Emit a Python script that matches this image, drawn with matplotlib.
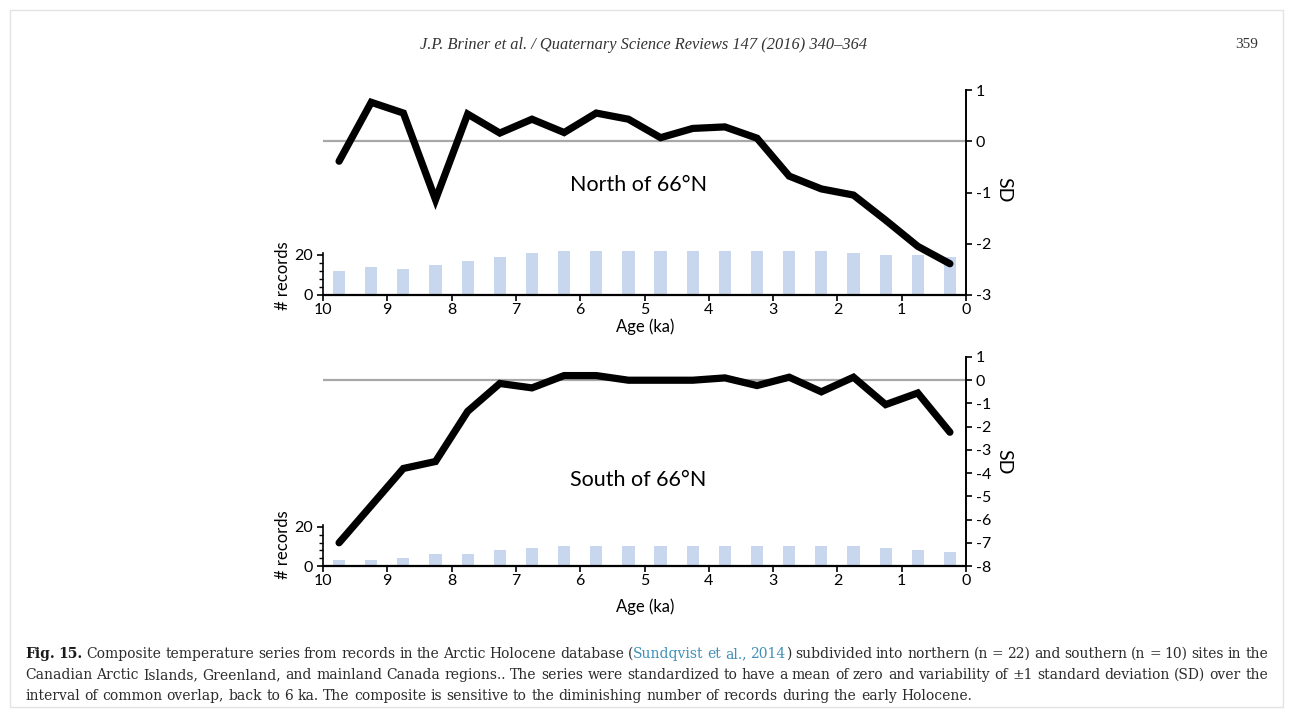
import matplotlib
matplotlib.use("Agg")
import matplotlib.pyplot as plt
from matplotlib.transforms import IdentityTransform
from matplotlib.patches import Rectangle
import numpy as np

plt.rcParams['axes.unicode_minus'] = False
plt.rcParams['font.family'] = ['Lato', 'DejaVu Sans']

# ---------------- data ----------------
age_bins = [9.75, 9.25, 8.75, 8.25, 7.75, 7.25, 6.75, 6.25, 5.75, 5.25,
            4.75, 4.25, 3.75, 3.25, 2.75, 2.25, 1.75, 1.25, 0.75, 0.25]
north_sd = [-0.39, 0.76, 0.55, -1.14, 0.53, 0.16, 0.43, 0.17, 0.55, 0.43,
            0.07, 0.25, 0.28, 0.06, -0.68, -0.93, -1.05, -1.54, -2.05, -2.39]
north_records = [12, 14, 13, 15, 17, 19, 21, 22, 22, 22,
                 22, 22, 22, 22, 22, 22, 21, 20, 20, 19]
south_sd = [-7.0, -5.4, -3.8, -3.5, -1.34, -0.14, -0.33, 0.2, 0.2, 0.0,
            0.0, 0.0, 0.1, -0.23, 0.13, -0.5, 0.13, -1.05, -0.55, -2.24]
south_records = [3, 3, 4, 6, 6, 8, 9, 10, 10, 10,
                 10, 10, 10, 10, 10, 10, 10, 9, 8, 7]
age_ticks = [10, 9, 8, 7, 6, 5, 4, 3, 2, 1, 0]
panel_titles = ["North of 66°N", "South of 66°N"]
header_text = "J.P. Briner et al. / Quaternary Science Reviews 147 (2016) 340\u2013364"
page_number = "359"
caption_lines = [
    [("Fig. 15.", "b"), (" Composite temperature series from records in the Arctic Holocene database (", "n"),
     ("Sundqvist et al., 2014", "l"),
     (") subdivided into northern (n = 22) and southern (n = 10) sites in the", "n")],
    [("Canadian Arctic Islands, Greenland, and mainland Canada regions.. The series were standardized to have a mean of zero and variability of \u00b11 standard deviation (SD) over the", "n")],
    [("interval of common overlap, back to 6 ka. The composite is sensitive to the diminishing number of records during the early Holocene.", "n")],
]

W, H = 1290, 714
fig = plt.figure(figsize=(W / 100, H / 100), dpi=100)
fig.patch.set_facecolor("white")

# page frame
fig.add_artist(Rectangle((10 / W, 7 / H), 1273 / W, 697 / H, transform=fig.transFigure,
                         fill=False, edgecolor="#e2e2e2", lw=1.0))

BAR_C = "#c9d7ee"
LINE_C = "black"
TICK_FS = 11.5


def px_ax(x0, y_top, x1, y_bot):
    return [x0 / W, 1 - y_bot / H, (x1 - x0) / W, (y_bot - y_top) / H]


def make_panel(rect, sd, rec, sd_lim, rec_max, title, title_pos):
    axb = fig.add_axes(rect)
    axb.bar(age_bins, rec, width=0.19, color=BAR_C, zorder=1)
    axb.set_xlim(10, 0)
    axb.set_ylim(0, rec_max)
    axb.set_xticks(age_ticks)
    axb.set_xticklabels([str(t) for t in age_ticks], fontsize=TICK_FS)
    axb.set_yticks([0, 20])
    axb.set_yticks([4, 8, 12, 16], minor=True)
    axb.set_yticklabels(["0", "20"], fontsize=TICK_FS)
    for s in ["top", "right"]:
        axb.spines[s].set_visible(False)
    axb.spines["left"].set_bounds(0, 21)
    axb.spines["left"].set_linewidth(1.2)
    axb.spines["bottom"].set_linewidth(1.6)
    axb.tick_params(axis="x", direction="out", length=4, width=1.2, pad=2)
    axb.tick_params(axis="y", which="major", direction="out", length=4, width=1.2, pad=3)
    axb.tick_params(axis="y", which="minor", direction="out", length=3, width=1.0)
    axb.patch.set_alpha(0)

    axs = axb.twinx()
    axs.set_ylim(*sd_lim)
    axs.set_yticks(list(range(sd_lim[0], sd_lim[1] + 1)))
    axs.set_yticklabels([str(v) for v in range(sd_lim[0], sd_lim[1] + 1)], fontsize=TICK_FS)
    for s in ["top", "left", "bottom"]:
        axs.spines[s].set_visible(False)
    axs.spines["right"].set_linewidth(1.4)
    axs.tick_params(axis="y", direction="out", length=4, width=1.2, pad=3)
    axs.axhline(0, color="#a8a8a8", lw=1.6, zorder=1)
    axs.plot(age_bins, sd, color=LINE_C, lw=5.2, solid_joinstyle="miter",
             solid_capstyle="round", zorder=3)
    axs.text(title_pos[0], title_pos[1], title, transform=axs.transAxes,
             ha="center", va="center", fontsize=15.5)
    return axb, axs


make_panel(px_ax(323, 90, 966, 295), north_sd, north_records, (-3, 1), 102.5,
           panel_titles[0], (0.49, 0.537))
make_panel(px_ax(323, 357, 966, 566), south_sd, south_records, (-8, 1), 107,
           panel_titles[1], (0.49, 0.41))

# axis labels (pixel placed)
def ptext(x, y, s, **kw):
    return fig.text(x / W, 1 - y / H, s, **kw)

for yy in (327, 607):
    ptext(645, yy, "Age (ka)", ha="center", va="center", fontsize=12)
for yy in (276, 545):
    ptext(283, yy, "# records", ha="center", va="center", rotation=90, fontsize=12)
for yy in (190, 462):
    ptext(1004, yy, "SD", ha="center", va="center", rotation=270, fontsize=14)

# header
ptext(644, 45, header_text, ha="center", va="center", fontsize=11.8,
      family="Liberation Serif", style="italic", color="#333333")
ptext(1247, 45, page_number, ha="center", va="center", fontsize=11,
      family="Liberation Serif", color="#333333")

# caption (justified)
renderer = fig.canvas.get_renderer()
CAP_FS = 10.0
CAP_FAMILY = "DejaVu Serif"
STYLE = {"n": dict(color="#2b2b2b", weight="normal"),
         "b": dict(color="#1a1a1a", weight="bold"),
         "l": dict(color="#3f8fb8", weight="normal")}


def words_of(line):
    chars = []
    for txt, st in line:
        for c in txt:
            chars.append((c, st))
    words, cur = [], []
    for c, st in chars:
        if c == " ":
            if cur:
                words.append(cur)
            cur = []
        else:
            if cur and cur[-1][1] == st:
                cur[-1] = (cur[-1][0] + c, st)
            else:
                cur.append((c, st))
    if cur:
        words.append(cur)
    return words


def measure(s, st):
    t = fig.text(0, 0, s, fontsize=CAP_FS, family=CAP_FAMILY, transform=IdentityTransform(), **STYLE[st])
    w = t.get_window_extent(renderer).width
    t.remove()
    return w


space_w = measure("a a", "n") - measure("aa", "n")
x_left, x_right = 25, 1268
line_y = [654, 675, 696]
for i, line in enumerate(caption_lines):
    words = words_of(line)
    widths = [sum(measure(s, st) for s, st in w) for w in words]
    justify = i < len(caption_lines) - 1
    if justify and len(words) > 1:
        gap = (x_right - x_left - sum(widths)) / (len(words) - 1)
    else:
        gap = space_w
    x = x_left
    ydisp = H - line_y[i]
    for w, wd in zip(words, widths):
        xx = x
        for s, st in w:
            t = fig.text(xx, ydisp, s, fontsize=CAP_FS, family=CAP_FAMILY, va="center",
                         transform=IdentityTransform(), **STYLE[st])
            xx += measure(s, st)
        x += wd + gap

fig.savefig("out.png", dpi=100, facecolor="white")
